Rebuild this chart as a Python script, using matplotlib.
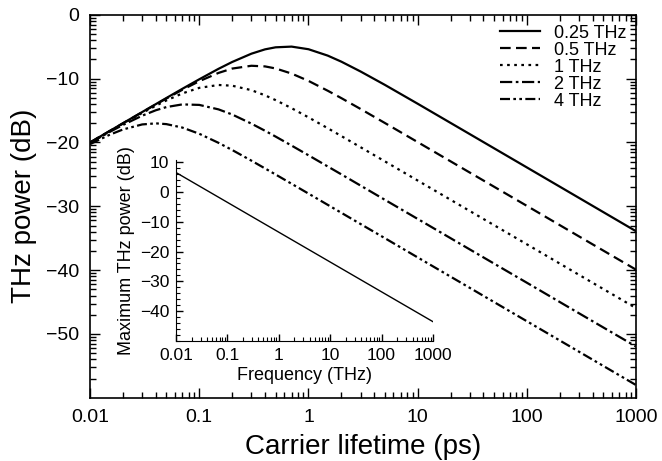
import numpy as np
import matplotlib
matplotlib.use('Agg')
import matplotlib.pyplot as plt
from matplotlib.ticker import FixedLocator, LogLocator, NullFormatter, MultipleLocator

plt.rcParams['font.family'] = ['Liberation Sans', 'DejaVu Sans']

# carrier lifetime (ps)
lifetime = [0.01, 0.015, 0.02, 0.03, 0.04, 0.05, 0.07, 0.1, 0.15, 0.2, 0.3, 0.4,
            0.5, 0.7, 1, 1.5, 2, 3, 5, 10, 30, 100, 300, 1000]

# THz power (dB) per frequency
p_025 = [-20.00, -18.24, -16.99, -15.24, -14.00, -13.04, -11.60, -10.11, -8.47, -7.40,
         -6.10, -5.42, -5.10, -4.99, -5.40, -6.40, -7.35, -8.89, -10.98, -13.94,
         -18.70, -23.92, -28.69, -33.92]
p_05 = [-20.00, -18.25, -17.01, -15.27, -14.05, -13.12, -11.75, -10.41, -9.11, -8.43,
        -7.99, -8.09, -8.41, -9.21, -10.36, -11.90, -13.06, -14.76, -16.95, -19.95,
        -24.72, -29.94, -34.72, -39.94]
p_1 = [-20.02, -18.28, -17.06, -15.38, -14.25, -13.42, -12.32, -11.45, -11.00, -11.11,
       -11.81, -12.62, -13.37, -14.63, -16.07, -17.77, -19.00, -20.75, -22.96, -25.97,
       -30.74, -35.96, -40.74, -45.96]
p_2 = [-20.07, -18.39, -17.26, -15.81, -14.96, -14.46, -14.04, -14.12, -14.82, -15.62,
       -17.05, -18.17, -19.08, -20.49, -22.01, -23.76, -25.00, -26.76, -28.98, -31.98,
       -36.76, -41.98, -46.76, -51.98]
p_4 = [-20.27, -18.82, -17.97, -17.18, -17.01, -17.13, -17.67, -18.64, -20.06, -21.18,
       -22.85, -24.07, -25.02, -26.47, -28.01, -29.77, -31.02, -32.78, -34.99, -38.01,
       -42.78, -48.01, -52.78, -58.01]

labels = ['0.25 THz', '0.5 THz', '1 THz', '2 THz', '4 THz']
styles = ['-', (0, (4.8, 2.4)), (0, (1.2, 2.0)), (0, (5.5, 1.6, 1.2, 1.6)),
          (0, (4.5, 1.5, 1.2, 1.5, 1.2, 1.5))]

# inset: maximum THz power vs frequency
freq = [0.01, 1000]
pmax = [6.6, -43.6]

fig = plt.figure(figsize=(6.62, 4.61), dpi=100)
ax = fig.add_axes([0.136, 0.137, 0.825, 0.831])

for y, lab, ls in zip([p_025, p_05, p_1, p_2, p_4], labels, styles):
    ax.plot(lifetime, y, color='black', lw=1.6, linestyle=ls, label=lab)

ax.set_xscale('log')
ax.set_xlim(0.01, 1000)
ax.set_ylim(-60, 0)
ax.set_xticks([0.01, 0.1, 1, 10, 100, 1000])
ax.set_xticklabels(['0.01', '0.1', '1', '10', '100', '1000'])
ax.xaxis.set_minor_locator(LogLocator(base=10, subs=np.arange(2, 10)))
ax.xaxis.set_minor_formatter(NullFormatter())
ax.set_yticks([0, -10, -20, -30, -40, -50])
# odd log-style minor ticks of the original on the dB axis
minor_y = [m - 10 + 10 * np.log10(k) for m in range(0, -60, -10) for k in range(2, 10)]
ax.yaxis.set_minor_locator(FixedLocator(minor_y))
ax.tick_params(which='both', direction='in', top=True, right=True, labelsize=14, pad=8)
ax.tick_params(which='major', length=7, width=1)
ax.tick_params(which='minor', length=4, width=1)
for s in ax.spines.values():
    s.set_linewidth(1.2)
ax.set_xlabel('Carrier lifetime (ps)', fontsize=20, labelpad=6)
ax.set_ylabel('THz power (dB)', fontsize=20, labelpad=6)

ax.legend(loc='upper right', frameon=False, fontsize=13, handlelength=2.25,
          labelspacing=0.0, handletextpad=0.75, borderpad=0.3, borderaxespad=0.25)

ins = fig.add_axes([0.266, 0.261, 0.388, 0.393])
ins.plot(freq, pmax, color='black', lw=1.0)
ins.set_xscale('log')
ins.set_xlim(0.01, 1000)
ins.set_ylim(-50, 11)
ins.set_xticks([0.01, 0.1, 1, 10, 100, 1000])
ins.set_xticklabels(['0.01', '0.1', '1', '10', '100', '1000'])
ins.xaxis.set_minor_locator(LogLocator(base=10, subs=np.arange(2, 10)))
ins.xaxis.set_minor_formatter(NullFormatter())
ins.set_yticks([10, 0, -10, -20, -30, -40])
ins.yaxis.set_minor_locator(MultipleLocator(2))
ins.spines['top'].set_visible(False)
ins.spines['right'].set_visible(False)
ins.tick_params(which='both', direction='in', labelsize=12.5, pad=5)
ins.tick_params(which='major', length=5, width=1)
ins.tick_params(which='minor', length=3, width=0.8)
ins.set_xlabel('Frequency (THz)', fontsize=13, labelpad=3)
ins.set_ylabel('Maximum THz power (dB)', fontsize=13, labelpad=3)
ins.patch.set_alpha(0)

fig.savefig('out.png', dpi=100)
